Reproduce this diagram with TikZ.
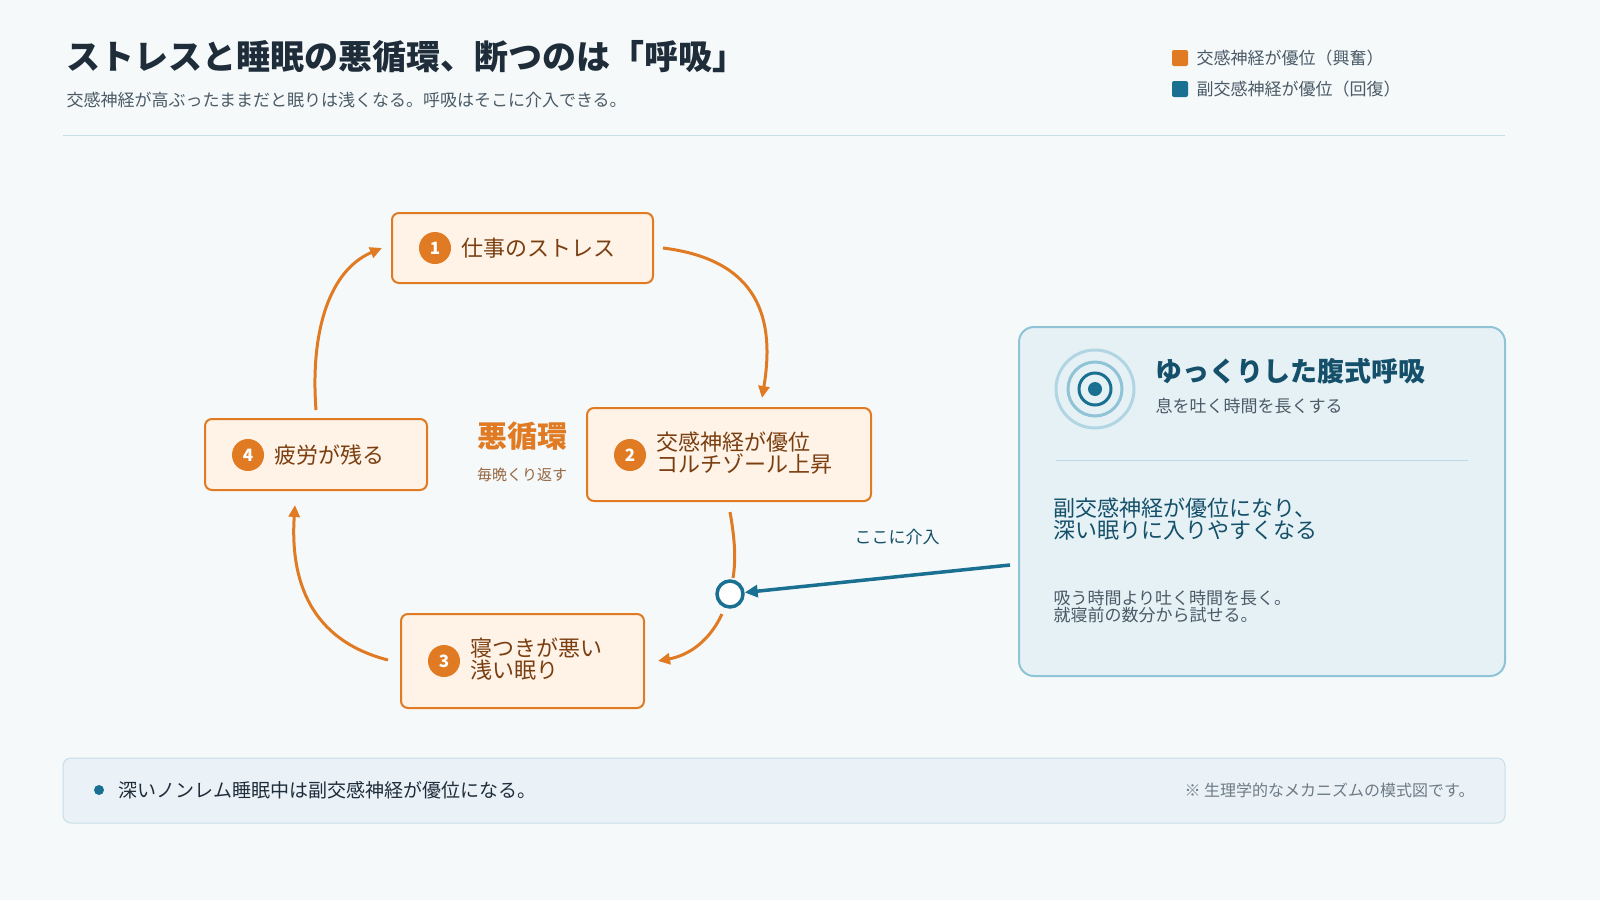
\documentclass[tikz,border=0pt]{standalone}
\usepackage{fontspec}
\setmainfont{Noto Sans CJK JP}
\newcommand{\jpbold}{\bfseries}
\usetikzlibrary{arrows.meta, positioning}
\definecolor{bgc}{HTML}{F5F9FA}
\definecolor{orng}{HTML}{E07B24}
\definecolor{nodefill}{HTML}{FEF3E6}
\definecolor{brwn}{HTML}{7A3E10}
\definecolor{teal}{HTML}{1A7090}
\definecolor{tealdk}{HTML}{15506A}
\definecolor{panelfill}{HTML}{E6F1F6}
\definecolor{panelline}{HTML}{8FC3D6}
\definecolor{titlec}{HTML}{1F2D3A}
\definecolor{grayt}{HTML}{4A5A66}
\definecolor{barfill}{HTML}{EAF2F8}
\definecolor{barline}{HTML}{C9DDE8}
\newcommand{\fs}[1]{\fontsize{#1pt}{#1pt}\selectfont}
\tikzset{
  stepbox/.style={draw=orng, line width=2pt, fill=nodefill, rounded corners=7pt},
  badge/.style={circle, fill=orng, text=white, minimum size=32pt, inner sep=0pt, font=\fs{17}\jpbold},
  steptext/.style={anchor=west, text=brwn, font=\fs{22}, align=left},
  cyc/.style={draw=orng, line width=3pt, -{Triangle[length=12pt,width=11pt]}},
}
\begin{document}
\begin{tikzpicture}[x=1pt, y=-1pt]
	\fill[bgc] (0,0) rectangle (1600,900);
	\useasboundingbox (0,0) rectangle (1600,900);

	% header
	\node[anchor=west, text=titlec, font=\fs{34}\jpbold] (title) at (63,57) {ストレスと睡眠の悪循環、断つのは「呼吸」};
	\node[anchor=west, text=grayt, font=\fs{17}] (sub) at (63,100) {交感神経が高ぶったままだと眠りは浅くなる。呼吸はそこに介入できる。};
	\fill[orng, rounded corners=2pt] (1172,50) rectangle ++(16,16);
	\fill[teal, rounded corners=2pt] (1172,81) rectangle ++(16,16);
	\node[anchor=west, text=grayt, font=\fs{17}] (lg1) at (1193,58) {交感神経が優位（興奮）};
	\node[anchor=west, text=grayt, font=\fs{17}] (lg2) at (1193,89) {副交感神経が優位（回復）};
	\draw[color=barline, line width=1pt] (63,135) -- (1505,135);

	% cycle steps
	\draw[stepbox] (392,213) rectangle (653,283);
	\node[badge] (b1) at (435,248) {1};
	\node[steptext] (s1) at (458,248) {仕事のストレス};
	\draw[stepbox] (587,408) rectangle (871,501);
	\node[badge] (b2) at (630,455) {2};
	\node[steptext] (s2) at (653,453) {交感神経が優位\\コルチゾール上昇};
	\draw[stepbox] (401,614) rectangle (644,708);
	\node[badge] (b3) at (444,661) {3};
	\node[steptext] (s3) at (467,659) {寝つきが悪い\\浅い眠り};
	\draw[stepbox] (205,419) rectangle (427,490);
	\node[badge] (b4) at (248,455) {4};
	\node[steptext] (s4) at (271,455) {疲労が残る};

	\node[text=orng, font=\fs{30}\jpbold] (loop) at (522,436) {悪循環};
	\node[text=brwn!80, font=\fs{15}] (loopsub) at (522,475) {毎晩くり返す};

	% arrows
	\coordinate (a1) at (663,248);
	\coordinate (a2) at (762,398);
	\coordinate (a3) at (730,512);
	\coordinate (a4) at (722,614);
	\coordinate (a5) at (658,661);
	\coordinate (a6) at (388,660);
	\coordinate (a7) at (295,505);
	\coordinate (a8) at (316,410);
	\coordinate (a9) at (382,248);
	\draw[cyc] (a1) .. controls (760,260) and (775,320) .. (a2);
	\draw[draw=orng, line width=3pt] (a3) .. controls (735,540) and (736,560) .. (733,578);
	\node[circle, draw=teal, line width=3.5pt, fill=white, minimum size=26pt, inner sep=0pt] (hub) at (730,594) {};
	\draw[cyc] (a4) .. controls (710,640) and (690,655) .. (a5);
	\draw[cyc] (a6) .. controls (310,640) and (290,580) .. (a7);
	\draw[cyc] (a8) .. controls (310,330) and (330,270) .. (a9);

	% intervention
	\coordinate (pin) at (1010,565);
	\draw[draw=teal, line width=3.5pt, -{Triangle[length=13pt,width=12pt]}] (pin) -- (hub);
	\node[text=tealdk, font=\fs{17}] (lbl) at (897,537) {ここに介入};

	% panel
	\draw[draw=panelline, line width=2pt, fill=panelfill, rounded corners=15pt] (1019,327) rectangle (1505,676);
	\draw[panelline!70, line width=3pt] (1095,389) circle (39);
	\draw[panelline, line width=3pt] (1095,389) circle (27);
	\draw[teal, line width=3pt] (1095,389) circle (16);
	\fill[teal] (1095,389) circle (7);
	\node[anchor=west, text=tealdk, font=\fs{27}\jpbold] (ptitle) at (1152,371) {ゆっくりした腹式呼吸};
	\node[anchor=west, text=grayt, font=\fs{17}] (psub) at (1152,406) {息を吐く時間を長くする};
	\draw[color=panelline!60, line width=1pt] (1056,460) -- (1468,460);
	\node[anchor=west, text=tealdk, font=\fs{22}, align=left] (pmain) at (1050,519) {副交感神経が優位になり、\\深い眠りに入りやすくなる};
	\node[anchor=west, text=grayt, font=\fs{17}, align=left] (pnote) at (1050,607) {吸う時間より吐く時間を長く。\\就寝前の数分から試せる。};

	% footer
	\draw[draw=barline, line width=1pt, fill=barfill, rounded corners=8pt] (63,758) rectangle (1505,823);
	\fill[teal] (99,790) circle (5);
	\node[anchor=west, text=titlec, font=\fs{19}] (foot) at (115,790) {深いノンレム睡眠中は副交感神経が優位になる。};
	\node[anchor=east, text=grayt!80, font=\fs{16}] (fnote) at (1478,790) {※ 生理学的なメカニズムの模式図です。};
\end{tikzpicture}
\end{document}
